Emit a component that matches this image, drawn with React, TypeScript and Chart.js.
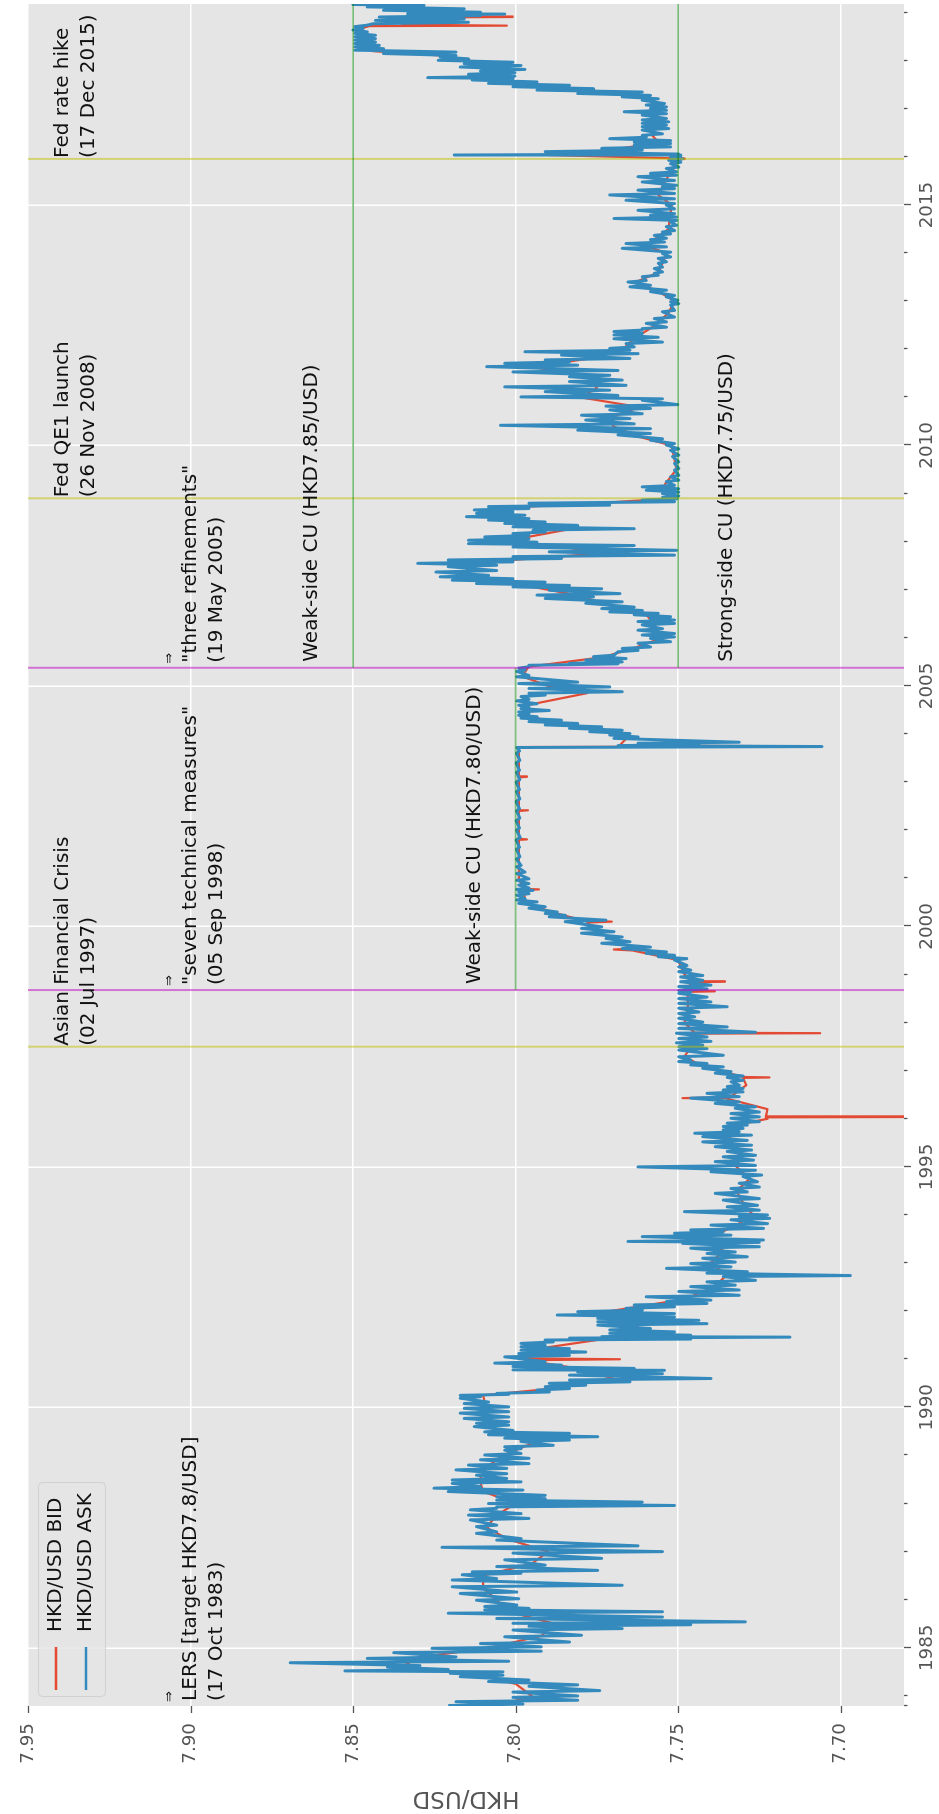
import React, { useEffect, useRef } from 'react';
import { Chart, registerables } from 'chart.js';

Chart.register(...registerables);

const FONT = '"DejaVu Sans", sans-serif';

const X_MIN = 1983.79;
const X_MAX = 2019.18;
const Y_MIN = 7.6805;
const Y_MAX = 7.95;

const YEAR_TICKS = [1983.79, 1984, 1985, 1986, 1987, 1988, 1989, 1990, 1991, 1992, 1993, 1994, 1995,
  1996, 1997, 1998, 1999, 2000, 2001, 2002, 2003, 2004, 2005, 2006, 2007, 2008, 2009, 2010, 2011,
  2012, 2013, 2014, 2015, 2016, 2017, 2018, 2019];
const RATE_TICKS = [7.70, 7.75, 7.80, 7.85, 7.90, 7.95];

const SERIES_LABELS = ['HKD/USD BID', 'HKD/USD ASK'];

const ASK_1983_1992: [number, number][] = [
  [1983.80, 7.8207], [1983.83, 7.7977], [1983.88, 7.8183], [1983.91, 7.7809], [1983.97, 7.8008], [1984.00, 7.7809],
  [1984.08, 7.8008], [1984.11, 7.7741], [1984.20, 7.7959], [1984.23, 7.7809], [1984.30, 7.8083], [1984.33, 7.7959],
  [1984.40, 7.8170], [1984.43, 7.8039], [1984.47, 7.8201], [1984.50, 7.8039], [1984.52, 7.8525], [1984.55, 7.8207],
  [1984.60, 7.8394], [1984.63, 7.8294], [1984.69, 7.8693], [1984.72, 7.8021], [1984.78, 7.8456], [1984.81, 7.8183],
  [1984.90, 7.8375], [1984.93, 7.7921], [1984.99, 7.8257], [1985.02, 7.7921], [1985.09, 7.8108], [1985.12, 7.7834],
  [1985.23, 7.8033], [1985.26, 7.7797], [1985.37, 7.8008], [1985.40, 7.7672], [1985.45, 7.7959], [1985.48, 7.7461],
  [1985.51, 7.8008], [1985.54, 7.7293], [1985.61, 7.8058], [1985.64, 7.7548], [1985.72, 7.8207], [1985.75, 7.7548],
  [1985.79, 7.8095], [1985.82, 7.7959], [1985.86, 7.8095], [1985.89, 7.7996], [1985.99, 7.8120], [1986.02, 7.7990],
  [1986.13, 7.8170], [1986.16, 7.7996], [1986.27, 7.8195], [1986.30, 7.7672], [1986.41, 7.8195], [1986.44, 7.8058],
  [1986.52, 7.8164], [1986.55, 7.7983], [1986.58, 7.8133], [1986.61, 7.7747], [1986.69, 7.8058], [1986.72, 7.7909],
  [1986.83, 7.8033], [1986.86, 7.7735], [1986.97, 7.8008], [1987.00, 7.7548], [1987.09, 7.8226], [1987.12, 7.7623],
  [1987.24, 7.8058], [1987.27, 7.7983], [1987.38, 7.8120], [1987.41, 7.8058], [1987.52, 7.8120], [1987.55, 7.8058],
  [1987.66, 7.8139], [1987.69, 7.7959], [1987.76, 7.8145], [1987.79, 7.7983], [1987.87, 7.8139], [1987.90, 7.8058],
  [1987.93, 7.8058], [1987.96, 7.7511], [1988.00, 7.8083], [1988.03, 7.7610], [1988.07, 7.8058], [1988.10, 7.7909],
  [1988.14, 7.8058], [1988.17, 7.7909], [1988.25, 7.8207], [1988.28, 7.7977], [1988.32, 7.8251], [1988.35, 7.8108],
  [1988.42, 7.8195], [1988.45, 7.7983], [1988.49, 7.8195], [1988.52, 7.8027], [1988.59, 7.8120], [1988.62, 7.8027],
  [1988.70, 7.8183], [1988.73, 7.8027], [1988.80, 7.8145], [1988.83, 7.7959], [1988.91, 7.8108], [1988.94, 7.7959],
  [1989.01, 7.8095], [1989.04, 7.7983], [1989.11, 7.8033], [1989.14, 7.7983], [1989.18, 7.8033], [1989.21, 7.7884],
  [1989.29, 7.7983], [1989.32, 7.7834], [1989.36, 7.8033], [1989.39, 7.7747], [1989.43, 7.8083], [1989.46, 7.7834],
  [1989.49, 7.8095], [1989.52, 7.8008], [1989.60, 7.8127], [1989.63, 7.8021], [1989.67, 7.8120], [1989.70, 7.8021],
  [1989.77, 7.8158], [1989.80, 7.8021], [1989.88, 7.8170], [1989.91, 7.8021], [1989.98, 7.8158], [1990.01, 7.8021],
  [1990.08, 7.8158], [1990.11, 7.8083], [1990.19, 7.8170], [1990.22, 7.8108], [1990.25, 7.8170], [1990.27, 7.8021],
  [1990.29, 7.8058], [1990.32, 7.7896], [1990.36, 7.7934], [1990.39, 7.7834], [1990.43, 7.7909], [1990.46, 7.7784],
  [1990.50, 7.7896], [1990.53, 7.7648], [1990.57, 7.7834], [1990.60, 7.7399], [1990.67, 7.7834], [1990.70, 7.7548],
  [1990.74, 7.7809], [1990.77, 7.7542], [1990.78, 7.8008], [1990.81, 7.7635], [1990.85, 7.8008], [1990.88, 7.7859],
  [1990.92, 7.8064], [1990.95, 7.7909], [1991.05, 7.8033], [1991.08, 7.7834], [1991.12, 7.7990], [1991.15, 7.7784],
  [1991.19, 7.7983], [1991.22, 7.7834], [1991.26, 7.7983], [1991.29, 7.7909], [1991.33, 7.7983], [1991.36, 7.7884],
  [1991.40, 7.7909], [1991.42, 7.7461], [1991.44, 7.7834], [1991.46, 7.7156], [1991.47, 7.7735], [1991.50, 7.7461],
  [1991.54, 7.7710], [1991.57, 7.7511], [1991.61, 7.7710], [1991.64, 7.7585], [1991.71, 7.7747], [1991.74, 7.7411],
  [1991.78, 7.7747], [1991.81, 7.7436], [1991.85, 7.7747], [1991.88, 7.7511], [1991.92, 7.7872], [1991.95, 7.7511],
  [1991.99, 7.7809], [1992.02, 7.7610], [1992.06, 7.7660], [1992.09, 7.7511], [1992.13, 7.7635], [1992.16, 7.7411],
  [1992.20, 7.7536], [1992.23, 7.7399], [1992.30, 7.7598], [1992.33, 7.7312], [1992.41, 7.7498], [1992.44, 7.7312],
];

const ASK_1992_2001: [number, number][] = [
  [1992.51, 7.7461], [1992.54, 7.7324], [1992.61, 7.7411], [1992.64, 7.7262], [1992.72, 7.7361], [1992.74, 7.6970],
  [1992.79, 7.7411], [1992.82, 7.7287], [1992.89, 7.7536], [1992.92, 7.7337], [1992.99, 7.7461], [1993.02, 7.7324],
  [1993.10, 7.7424], [1993.13, 7.7287], [1993.20, 7.7411], [1993.23, 7.7324], [1993.31, 7.7461], [1993.34, 7.7250],
  [1993.41, 7.7486], [1993.43, 7.7250], [1993.45, 7.7654], [1993.48, 7.7237], [1993.55, 7.7610], [1993.58, 7.7337],
  [1993.62, 7.7511], [1993.65, 7.7361], [1993.69, 7.7461], [1993.72, 7.7237], [1993.79, 7.7399], [1993.82, 7.7225],
  [1993.90, 7.7337], [1993.93, 7.7218], [1993.97, 7.7312], [1994.00, 7.7225], [1994.07, 7.7480], [1994.10, 7.7250],
  [1994.17, 7.7349], [1994.20, 7.7256], [1994.31, 7.7361], [1994.34, 7.7250], [1994.45, 7.7386], [1994.48, 7.7287],
  [1994.55, 7.7337], [1994.58, 7.7250], [1994.66, 7.7312], [1994.69, 7.7256], [1994.80, 7.7300], [1994.83, 7.7243],
  [1994.90, 7.7399], [1994.93, 7.7262], [1995.00, 7.7623], [1995.03, 7.7262], [1995.11, 7.7386], [1995.14, 7.7268],
  [1995.21, 7.7361], [1995.24, 7.7262], [1995.32, 7.7349], [1995.35, 7.7274], [1995.42, 7.7386], [1995.45, 7.7274],
  [1995.52, 7.7424], [1995.55, 7.7287], [1995.63, 7.7424], [1995.66, 7.7274], [1995.70, 7.7449], [1995.73, 7.7312],
  [1995.77, 7.7361], [1995.80, 7.7300], [1995.84, 7.7361], [1995.87, 7.7287], [1995.91, 7.7349], [1995.94, 7.7250],
  [1996.01, 7.7337], [1996.04, 7.7250], [1996.11, 7.7337], [1996.14, 7.7250], [1996.22, 7.7324], [1996.25, 7.7262],
  [1996.32, 7.7386], [1996.35, 7.7312], [1996.43, 7.7461], [1996.46, 7.7312], [1996.53, 7.7411], [1996.56, 7.7300],
  [1996.60, 7.7361], [1996.63, 7.7300], [1996.67, 7.7349], [1996.70, 7.7312], [1996.77, 7.7337], [1996.80, 7.7300],
  [1996.86, 7.7349], [1996.89, 7.7300], [1996.95, 7.7386], [1996.98, 7.7337], [1997.05, 7.7424], [1997.08, 7.7361],
  [1997.12, 7.7461], [1997.15, 7.7411], [1997.19, 7.7498], [1997.22, 7.7461], [1997.29, 7.7498], [1997.32, 7.7361],
  [1997.43, 7.7498], [1997.46, 7.7411], [1997.50, 7.7498], [1997.53, 7.7424], [1997.58, 7.7505], [1997.61, 7.7399],
  [1997.67, 7.7498], [1997.70, 7.7411], [1997.78, 7.7505], [1997.80, 7.7262], [1997.88, 7.7498], [1997.91, 7.7349],
  [1997.98, 7.7498], [1998.01, 7.7424], [1998.09, 7.7498], [1998.12, 7.7449], [1998.19, 7.7498], [1998.22, 7.7436],
  [1998.30, 7.7498], [1998.33, 7.7349], [1998.40, 7.7498], [1998.43, 7.7399], [1998.50, 7.7498], [1998.53, 7.7411],
  [1998.61, 7.7498], [1998.64, 7.7461], [1998.67, 7.7498], [1998.70, 7.7411], [1998.75, 7.7498], [1998.78, 7.7399],
  [1998.85, 7.7492], [1998.88, 7.7424], [1998.95, 7.7492], [1998.98, 7.7424], [1999.06, 7.7498], [1999.09, 7.7461],
  [1999.16, 7.7498], [1999.19, 7.7473], [1999.30, 7.7511], [1999.33, 7.7473], [1999.37, 7.7561], [1999.40, 7.7511],
  [1999.44, 7.7598], [1999.47, 7.7536], [1999.54, 7.7672], [1999.57, 7.7585], [1999.65, 7.7735], [1999.68, 7.7648],
  [1999.75, 7.7722], [1999.78, 7.7672], [1999.86, 7.7797], [1999.89, 7.7697], [1999.96, 7.7797], [1999.99, 7.7735],
  [2000.10, 7.7847], [2000.13, 7.7722], [2000.20, 7.7896], [2000.23, 7.7847], [2000.27, 7.7909], [2000.30, 7.7872],
  [2000.38, 7.7959], [2000.41, 7.7909], [2000.48, 7.7990], [2000.51, 7.7934], [2000.55, 7.7996], [2000.58, 7.7971],
  [2000.65, 7.7996], [2000.68, 7.7959], [2000.72, 7.7990], [2000.75, 7.7946], [2000.77, 7.7996], [2000.80, 7.7959],
  [2000.86, 7.7990], [2000.89, 7.7959], [2000.96, 7.7996], [2000.99, 7.7959], [2001.10, 7.7996], [2001.13, 7.7971],
  [2001.24, 7.7996], [2001.27, 7.7983],
];

const ASK_2001_2010: [number, number][] = [
  [2001.40, 7.7997], [2001.45, 7.7987], [2001.60, 7.7997], [2001.65, 7.7988], [2001.80, 7.7998], [2001.85, 7.7986],
  [2002.00, 7.7997], [2002.05, 7.7988], [2002.20, 7.7998], [2002.25, 7.7987], [2002.40, 7.7997], [2002.45, 7.7988],
  [2002.60, 7.7998], [2002.65, 7.7987], [2002.80, 7.7997], [2002.85, 7.7988], [2003.00, 7.7998], [2003.05, 7.7987],
  [2003.20, 7.7997], [2003.25, 7.7988], [2003.40, 7.7998], [2003.45, 7.7987], [2003.60, 7.7997], [2003.65, 7.7988],
  [2003.72, 7.7996], [2003.74, 7.7057], [2003.76, 7.7685], [2003.78, 7.7436], [2003.81, 7.7623], [2003.83, 7.7312],
  [2003.91, 7.7697], [2003.94, 7.7623], [2003.98, 7.7710], [2004.01, 7.7648], [2004.05, 7.7772], [2004.08, 7.7672],
  [2004.12, 7.7834], [2004.15, 7.7735], [2004.19, 7.7909], [2004.22, 7.7809], [2004.26, 7.7959], [2004.29, 7.7859],
  [2004.33, 7.7983], [2004.36, 7.7934], [2004.39, 7.7990], [2004.42, 7.7959], [2004.46, 7.7990], [2004.49, 7.7896],
  [2004.53, 7.7983], [2004.56, 7.7959], [2004.60, 7.7990], [2004.63, 7.7934], [2004.69, 7.7996], [2004.72, 7.7959],
  [2004.78, 7.7983], [2004.81, 7.7909], [2004.85, 7.7959], [2004.88, 7.7672], [2004.95, 7.7959], [2004.98, 7.7710],
  [2005.05, 7.7990], [2005.08, 7.7809], [2005.19, 7.7996], [2005.22, 7.7959], [2005.30, 7.7996], [2005.33, 7.7971],
  [2005.37, 7.7990], [2005.40, 7.7959], [2005.43, 7.7959], [2005.46, 7.7685], [2005.47, 7.7834], [2005.50, 7.7672],
  [2005.54, 7.7784], [2005.57, 7.7660], [2005.61, 7.7760], [2005.64, 7.7697], [2005.71, 7.7685], [2005.74, 7.7623],
  [2005.78, 7.7672], [2005.81, 7.7585], [2005.89, 7.7623], [2005.92, 7.7523], [2005.99, 7.7585], [2006.02, 7.7511],
  [2006.06, 7.7610], [2006.09, 7.7511], [2006.16, 7.7623], [2006.19, 7.7548], [2006.27, 7.7610], [2006.30, 7.7511],
  [2006.34, 7.7623], [2006.37, 7.7511], [2006.41, 7.7585], [2006.44, 7.7523], [2006.48, 7.7635], [2006.51, 7.7561],
  [2006.54, 7.7710], [2006.57, 7.7610], [2006.61, 7.7735], [2006.64, 7.7635], [2006.72, 7.7784], [2006.75, 7.7672],
  [2006.82, 7.7909], [2006.85, 7.7760], [2006.89, 7.7934], [2006.92, 7.7679], [2006.99, 7.7896], [2007.02, 7.7735],
  [2007.06, 7.8008], [2007.09, 7.7834], [2007.13, 7.8120], [2007.16, 7.7909], [2007.20, 7.8195], [2007.23, 7.8008],
  [2007.27, 7.8232], [2007.30, 7.8083], [2007.37, 7.8245], [2007.40, 7.8058], [2007.48, 7.8207], [2007.51, 7.8058],
  [2007.55, 7.8301], [2007.58, 7.8008], [2007.62, 7.8207], [2007.65, 7.7859], [2007.69, 7.8008], [2007.72, 7.7511],
  [2007.79, 7.7896], [2007.82, 7.7505], [2007.89, 7.8008], [2007.92, 7.7635], [2007.96, 7.8145], [2007.99, 7.7934],
  [2008.03, 7.8145], [2008.06, 7.7959], [2008.10, 7.8095], [2008.13, 7.7959], [2008.17, 7.8008], [2008.20, 7.7909],
  [2008.24, 7.7946], [2008.27, 7.7635], [2008.31, 7.8008], [2008.34, 7.7809], [2008.38, 7.8033], [2008.41, 7.7909],
  [2008.45, 7.8083], [2008.48, 7.7959], [2008.52, 7.8151], [2008.55, 7.7971], [2008.59, 7.8120], [2008.62, 7.8008],
  [2008.66, 7.8127], [2008.69, 7.7959], [2008.73, 7.8083], [2008.76, 7.7710], [2008.80, 7.7959], [2008.83, 7.7511],
  [2008.87, 7.7610], [2008.89, 7.7505], [2008.92, 7.7548], [2008.95, 7.7498], [2009.00, 7.7548], [2009.03, 7.7498],
  [2009.07, 7.7598], [2009.10, 7.7498], [2009.14, 7.7610], [2009.17, 7.7511], [2009.25, 7.7536], [2009.28, 7.7498],
  [2009.35, 7.7523], [2009.38, 7.7498], [2009.49, 7.7511], [2009.52, 7.7498], [2009.63, 7.7511], [2009.66, 7.7498],
  [2009.77, 7.7517], [2009.80, 7.7498], [2009.90, 7.7523], [2009.93, 7.7498], [2010.01, 7.7536], [2010.04, 7.7511],
  [2010.11, 7.7585], [2010.14, 7.7548], [2010.22, 7.7685], [2010.25, 7.7585],
];

const ASK_2010_2019: [number, number][] = [
  [2010.32, 7.7809], [2010.35, 7.7585], [2010.42, 7.8046], [2010.45, 7.7635], [2010.53, 7.7784], [2010.56, 7.7648],
  [2010.63, 7.7797], [2010.66, 7.7610], [2010.74, 7.7710], [2010.77, 7.7585], [2010.82, 7.7722], [2010.85, 7.7501],
  [2010.94, 7.7610], [2010.97, 7.7548], [2011.01, 7.7983], [2011.04, 7.7685], [2011.12, 7.7909], [2011.15, 7.7710],
  [2011.22, 7.8033], [2011.25, 7.7660], [2011.33, 7.7834], [2011.36, 7.7672], [2011.43, 7.7834], [2011.46, 7.7710],
  [2011.53, 7.8008], [2011.56, 7.7685], [2011.64, 7.8089], [2011.67, 7.7809], [2011.71, 7.8033], [2011.74, 7.7834],
  [2011.78, 7.7909], [2011.81, 7.7648], [2011.88, 7.7859], [2011.91, 7.7623], [2011.95, 7.7971], [2011.98, 7.7648],
  [2012.02, 7.7710], [2012.05, 7.7635], [2012.12, 7.7660], [2012.15, 7.7548], [2012.22, 7.7697], [2012.25, 7.7561],
  [2012.30, 7.7697], [2012.33, 7.7610], [2012.37, 7.7697], [2012.40, 7.7610], [2012.43, 7.7610], [2012.46, 7.7536],
  [2012.54, 7.7598], [2012.57, 7.7536], [2012.64, 7.7573], [2012.67, 7.7511], [2012.78, 7.7548], [2012.81, 7.7511],
  [2012.92, 7.7523], [2012.95, 7.7498], [2012.99, 7.7523], [2013.02, 7.7501], [2013.09, 7.7536], [2013.12, 7.7511],
  [2013.20, 7.7585], [2013.23, 7.7536], [2013.30, 7.7648], [2013.33, 7.7585], [2013.40, 7.7654], [2013.43, 7.7598],
  [2013.51, 7.7610], [2013.54, 7.7561], [2013.58, 7.7573], [2013.61, 7.7548], [2013.68, 7.7573], [2013.71, 7.7548],
  [2013.79, 7.7561], [2013.82, 7.7536], [2013.89, 7.7561], [2013.92, 7.7523], [2013.99, 7.7548], [2014.02, 7.7523],
  [2014.10, 7.7672], [2014.13, 7.7536], [2014.20, 7.7660], [2014.23, 7.7542], [2014.28, 7.7585], [2014.31, 7.7536],
  [2014.37, 7.7573], [2014.40, 7.7523], [2014.44, 7.7548], [2014.47, 7.7511], [2014.55, 7.7536], [2014.58, 7.7505],
  [2014.65, 7.7523], [2014.68, 7.7505], [2014.72, 7.7697], [2014.75, 7.7505], [2014.79, 7.7585], [2014.82, 7.7511],
  [2014.89, 7.7623], [2014.92, 7.7511], [2015.00, 7.7536], [2015.03, 7.7511], [2015.10, 7.7660], [2015.13, 7.7511],
  [2015.21, 7.7710], [2015.24, 7.7511], [2015.31, 7.7623], [2015.34, 7.7511], [2015.38, 7.7548], [2015.41, 7.7505],
  [2015.48, 7.7610], [2015.51, 7.7511], [2015.59, 7.7623], [2015.62, 7.7505], [2015.66, 7.7585], [2015.69, 7.7505],
  [2015.76, 7.7536], [2015.79, 7.7498], [2015.86, 7.7523], [2015.89, 7.7492], [2015.93, 7.7529], [2015.96, 7.7486],
  [2016.00, 7.7523], [2016.02, 7.7492], [2016.04, 7.8189], [2016.06, 7.7498], [2016.11, 7.7909], [2016.14, 7.7610],
  [2016.18, 7.7735], [2016.21, 7.7523], [2016.25, 7.7635], [2016.28, 7.7523], [2016.31, 7.7635], [2016.34, 7.7523],
  [2016.38, 7.7710], [2016.41, 7.7598], [2016.45, 7.7610], [2016.48, 7.7548], [2016.56, 7.7610], [2016.59, 7.7529],
  [2016.63, 7.7610], [2016.66, 7.7536], [2016.70, 7.7610], [2016.73, 7.7529], [2016.77, 7.7610], [2016.80, 7.7536],
  [2016.87, 7.7610], [2016.90, 7.7536], [2016.94, 7.7666], [2016.97, 7.7536], [2017.01, 7.7585], [2017.04, 7.7536],
  [2017.08, 7.7598], [2017.11, 7.7542], [2017.18, 7.7610], [2017.21, 7.7561], [2017.25, 7.7672], [2017.28, 7.7585],
  [2017.32, 7.7809], [2017.35, 7.7610], [2017.39, 7.7934], [2017.42, 7.7760], [2017.46, 7.8008], [2017.49, 7.7834],
  [2017.53, 7.8083], [2017.56, 7.7934], [2017.60, 7.8133], [2017.63, 7.8008], [2017.65, 7.8270], [2017.68, 7.8002],
  [2017.72, 7.8145], [2017.75, 7.8002], [2017.79, 7.8108], [2017.82, 7.7971], [2017.87, 7.8170], [2017.90, 7.7983],
  [2017.94, 7.8158], [2017.97, 7.8008], [2018.01, 7.8238], [2018.04, 7.8145], [2018.08, 7.8232], [2018.11, 7.8183],
  [2018.15, 7.8406], [2018.18, 7.8183], [2018.22, 7.8494], [2018.25, 7.8406], [2018.29, 7.8494], [2018.32, 7.8419],
  [2018.36, 7.8494], [2018.39, 7.8431], [2018.43, 7.8494], [2018.46, 7.8431], [2018.50, 7.8494], [2018.53, 7.8431],
  [2018.57, 7.8494], [2018.60, 7.8456], [2018.64, 7.8500], [2018.67, 7.8469], [2018.71, 7.8494], [2018.74, 7.8456],
  [2018.77, 7.8438], [2018.80, 7.8145], [2018.84, 7.8431], [2018.87, 7.8158], [2018.91, 7.8419], [2018.94, 7.8108],
  [2018.95, 7.8332], [2018.97, 7.8033], [2018.98, 7.8332], [2019.01, 7.8108], [2019.05, 7.8406], [2019.08, 7.8158],
  [2019.12, 7.8456], [2019.15, 7.8282], [2019.17, 7.8500], [2019.18, 7.8394],
];

const BID_1983_2001: [number, number][] = [
  [1983.80, 7.8050], [1984.00, 7.7950], [1984.25, 7.8000], [1984.45, 7.8120], [1984.60, 7.8350], [1984.80, 7.8300],
  [1985.00, 7.8080], [1985.25, 7.7920], [1985.50, 7.7880], [1985.75, 7.8020], [1986.00, 7.8060], [1986.25, 7.8100],
  [1986.50, 7.8100], [1986.75, 7.7950], [1987.00, 7.7900], [1987.25, 7.8020], [1987.50, 7.8090], [1987.75, 7.8060],
  [1988.00, 7.8000], [1988.25, 7.8100], [1988.50, 7.8110], [1988.75, 7.8090], [1989.00, 7.8040], [1989.25, 7.7950],
  [1989.50, 7.8060], [1989.75, 7.8090], [1990.00, 7.8090], [1990.25, 7.8100], [1990.40, 7.7870], [1990.60, 7.7700],
  [1990.80, 7.7800], [1990.98, 7.7970], [1991.00, 7.7679], [1991.02, 7.7970], [1991.25, 7.7900], [1991.45, 7.7700],
  [1991.60, 7.7650], [1991.80, 7.7600], [1992.00, 7.7710], [1992.25, 7.7480], [1992.50, 7.7390], [1992.75, 7.7350],
  [1993.00, 7.7400], [1993.25, 7.7360], [1993.50, 7.7420], [1993.75, 7.7330], [1994.00, 7.7270], [1994.25, 7.7300],
  [1994.50, 7.7320], [1994.75, 7.7280], [1995.00, 7.7320], [1995.25, 7.7310], [1995.50, 7.7350], [1995.75, 7.7330],
  [1995.90, 7.7300], [1996.00, 7.7225], [1996.03, 7.7230], [1996.04, 7.6600], [1996.05, 7.7230], [1996.20, 7.7225],
  [1996.42, 7.7350], [1996.43, 7.7486], [1996.45, 7.7340], [1996.70, 7.7290], [1996.85, 7.7300], [1996.86, 7.7219],
  [1996.87, 7.7300], [1997.10, 7.7430], [1997.30, 7.7480], [1997.50, 7.7460], [1997.77, 7.7460], [1997.78, 7.7063],
  [1997.79, 7.7450], [1998.00, 7.7480], [1998.30, 7.7470], [1998.64, 7.7470], [1998.65, 7.7387], [1998.66, 7.7470],
  [1998.84, 7.7460], [1998.85, 7.7356], [1998.86, 7.7460], [1999.00, 7.7480], [1999.30, 7.7500], [1999.50, 7.7640],
  [1999.52, 7.7698], [1999.54, 7.7640], [1999.70, 7.7690], [1999.90, 7.7750], [2000.08, 7.7780], [2000.10, 7.7704],
  [2000.12, 7.7790], [2000.30, 7.7890], [2000.50, 7.7970], [2000.76, 7.7975], [2000.77, 7.7928], [2000.78, 7.7975],
  [2001.00, 7.7990],
];

const BID_2001_2019: [number, number][] = [
  [2001.50, 7.7990], [2001.80, 7.7990], [2001.81, 7.7965], [2001.82, 7.7990], [2002.40, 7.7990], [2002.41, 7.7962],
  [2002.42, 7.7990], [2003.10, 7.7990], [2003.11, 7.7965], [2003.12, 7.7990], [2003.73, 7.7990], [2003.745, 7.7060],
  [2003.76, 7.7680], [2003.90, 7.7660], [2004.00, 7.7680], [2004.20, 7.7860], [2004.40, 7.7975], [2004.60, 7.7965],
  [2004.85, 7.7780], [2005.00, 7.7900], [2005.20, 7.7980], [2005.40, 7.7960], [2005.60, 7.7730], [2005.80, 7.7630],
  [2006.00, 7.7550], [2006.25, 7.7570], [2006.50, 7.7600], [2006.70, 7.7720], [2006.90, 7.7820], [2007.10, 7.7980],
  [2007.30, 7.8150], [2007.55, 7.8150], [2007.75, 7.7750], [2007.90, 7.7850], [2008.00, 7.8040], [2008.24, 7.7850],
  [2008.50, 7.8060], [2008.70, 7.8050], [2008.80, 7.7750], [2008.90, 7.7520], [2009.20, 7.7540], [2009.50, 7.7505],
  [2010.00, 7.7520], [2010.20, 7.7630], [2010.40, 7.7700], [2010.60, 7.7700], [2010.80, 7.7620], [2011.00, 7.7800],
  [2011.20, 7.7750], [2011.40, 7.7760], [2011.64, 7.7950], [2011.80, 7.7780], [2012.00, 7.7670], [2012.25, 7.7630],
  [2012.50, 7.7570], [2012.75, 7.7530], [2013.00, 7.7510], [2013.20, 7.7560], [2013.40, 7.7630], [2013.60, 7.7560],
  [2014.00, 7.7535], [2014.15, 7.7600], [2014.50, 7.7530], [2015.00, 7.7520], [2015.20, 7.7560], [2015.50, 7.7540],
  [2015.80, 7.7510], [2015.95, 7.7500], [2015.96, 7.7480], [2015.97, 7.7500], [2016.04, 7.7900], [2016.10, 7.7750],
  [2016.30, 7.7560], [2016.45, 7.7580], [2016.70, 7.7570], [2017.00, 7.7560], [2017.20, 7.7580], [2017.35, 7.7720],
  [2017.50, 7.7950], [2017.60, 7.8070], [2017.90, 7.8070], [2018.10, 7.8210], [2018.20, 7.8440], [2018.30, 7.8460],
  [2018.65, 7.8485], [2018.72, 7.8450], [2018.73, 7.8027], [2018.75, 7.8350], [2018.80, 7.8300], [2018.90, 7.8300],
  [2018.91, 7.8009], [2018.92, 7.8250], [2018.98, 7.8200], [2019.10, 7.8350], [2019.18, 7.8450],
];

// Events: market shocks (yellow lines) and HKMA policy changes (magenta lines)
const MARKET_EVENT_DATES = [1997.499, 2008.902, 2015.959];
const MARKET_EVENT_TEXT = [
  ['Asian Financial Crisis', '(02 Jul 1997)'],
  ['Fed QE1 launch', '(26 Nov 2008)'],
  ['Fed rate hike', '(17 Dec 2015)'],
];
const POLICY_EVENT_DATES = [1983.792, 1998.677, 2005.378];
const POLICY_EVENT_LINE = [false, true, true];
const POLICY_EVENT_TEXT = [
  ['LERS [target HKD7.8/USD]', '(17 Oct 1983)'],
  ['"seven technical measures"', '(05 Sep 1998)'],
  ['"three refinements"', '(19 May 2005)'],
];
// Convertibility undertakings (green lines)
const CU_LEVELS = [7.80, 7.85, 7.75];
const CU_FROM = [1998.677, 2005.378, 2005.378];
const CU_TO = [2005.378, X_MAX, X_MAX];
const CU_TEXT = ['Weak-side CU (HKD7.80/USD)', 'Weak-side CU (HKD7.85/USD)', 'Strong-side CU (HKD7.75/USD)'];
const CU_BELOW = [false, false, true];

const toPoints = (arr: [number, number][]) => arr.map(([x, y]) => ({ x, y }));

const decorPlugin = {
  id: 'decor',
  beforeDraw(chart: any) {
    const { ctx, chartArea: a, width, height } = chart;
    ctx.save();
    ctx.fillStyle = '#ffffff';
    ctx.fillRect(0, 0, width, height);
    ctx.fillStyle = '#E5E5E5';
    ctx.fillRect(a.left, a.top, a.right - a.left, a.bottom - a.top);
    ctx.restore();
  },
  afterDatasetsDraw(chart: any) {
    const { ctx, chartArea: a } = chart;
    const xs = chart.scales.x;
    const ys = chart.scales.y;
    const seg = (x0: number, y0: number, x1: number, y1: number) => {
      ctx.beginPath();
      ctx.moveTo(x0, y0);
      ctx.lineTo(x1, y1);
      ctx.stroke();
    };
    ctx.save();
    ctx.beginPath();
    ctx.rect(a.left, a.top, a.right - a.left, a.bottom - a.top);
    ctx.clip();
    ctx.lineWidth = 2;
    ctx.strokeStyle = 'rgba(191,191,0,0.5)';
    MARKET_EVENT_DATES.forEach((d) => {
      const x = xs.getPixelForValue(d);
      seg(x, a.top, x, a.bottom);
    });
    ctx.strokeStyle = 'rgba(191,0,191,0.5)';
    POLICY_EVENT_DATES.forEach((d, i) => {
      if (!POLICY_EVENT_LINE[i]) return;
      const x = xs.getPixelForValue(d);
      seg(x, a.top, x, a.bottom);
    });
    ctx.lineWidth = 1.8;
    ctx.strokeStyle = 'rgba(0,128,0,0.5)';
    CU_LEVELS.forEach((lvl, i) => {
      const y = ys.getPixelForValue(lvl);
      seg(xs.getPixelForValue(CU_FROM[i]), y, xs.getPixelForValue(CU_TO[i]), y);
    });
    ctx.restore();

    ctx.save();
    ctx.fillStyle = '#111111';
    ctx.textAlign = 'left';
    ctx.textBaseline = 'alphabetic';
    ctx.font = `20px ${FONT}`;
    const lineGap = 26;
    MARKET_EVENT_DATES.forEach((d, i) => {
      const x = xs.getPixelForValue(d) + 1;
      const y = ys.getPixelForValue(7.9378);
      MARKET_EVENT_TEXT[i].forEach((t, k) => ctx.fillText(t, x, y + k * lineGap));
    });
    POLICY_EVENT_DATES.forEach((d, i) => {
      const x = xs.getPixelForValue(d);
      const y = ys.getPixelForValue(7.8982);
      POLICY_EVENT_TEXT[i].forEach((t, k) => ctx.fillText(t, x + 5, y + k * lineGap));
    });
    CU_LEVELS.forEach((lvl, i) => {
      const x = xs.getPixelForValue(CU_FROM[i]) + 6;
      const y = ys.getPixelForValue(CU_BELOW[i] ? lvl - 0.0165 : lvl + 0.011);
      ctx.fillText(CU_TEXT[i], x, y);
    });
    // small arrows next to policy notes
    ctx.font = `13px ${FONT}`;
    ctx.textBaseline = 'middle';
    POLICY_EVENT_DATES.forEach((d) => {
      const x = xs.getPixelForValue(d) + 4;
      const y = ys.getPixelForValue(7.9064);
      ctx.fillText('\u21D2', x, y);
    });
    ctx.restore();
  },
  afterDraw(chart: any) {
    const { ctx, chartArea: a } = chart;
    const xs = chart.scales.x;
    const ys = chart.scales.y;
    ctx.save();
    ctx.strokeStyle = '#555555';
    ctx.lineWidth = 1.3;
    xs.ticks.forEach((t: any) => {
      const x = Math.round(xs.getPixelForValue(t.value)) + 0.5;
      const len = t.value % 5 === 0 ? 7 : 3.5;
      ctx.beginPath();
      ctx.moveTo(x, a.bottom);
      ctx.lineTo(x, a.bottom + len);
      ctx.stroke();
    });
    ys.ticks.forEach((t: any) => {
      const y = Math.round(ys.getPixelForValue(t.value)) + 0.5;
      ctx.beginPath();
      ctx.moveTo(a.left - 7, y);
      ctx.lineTo(a.left, y);
      ctx.stroke();
    });
    // legend (upper left)
    const lx = a.left + 9;
    const ly = a.top + 10;
    const lw = 214;
    const lh = 67;
    ctx.beginPath();
    (ctx as any).roundRect(lx + 0.5, ly + 0.5, lw, lh, 4);
    ctx.fillStyle = 'rgba(229,229,229,0.8)';
    ctx.fill();
    ctx.strokeStyle = 'rgba(204,204,204,0.8)';
    ctx.lineWidth = 1;
    ctx.stroke();
    const colors = chart.data.datasets.map((ds: any) => ds.borderColor);
    ctx.font = `20px ${FONT}`;
    ctx.textBaseline = 'alphabetic';
    ctx.textAlign = 'left';
    SERIES_LABELS.forEach((label, i) => {
      const rowY = ly + 18 + i * 30;
      ctx.strokeStyle = colors[i];
      ctx.lineWidth = 2.6;
      ctx.beginPath();
      ctx.moveTo(lx + 7, rowY);
      ctx.lineTo(lx + 50, rowY);
      ctx.stroke();
      ctx.fillStyle = '#111111';
      ctx.fillText(label, lx + 65, rowY + 5.3);
    });
    ctx.restore();
  },
};

export default function App() {
  const ref = useRef<HTMLCanvasElement>(null);
  useEffect(() => {
    const canvas = ref.current;
    if (!canvas) return;
    Chart.defaults.font.family = FONT;
    const chart = new Chart(canvas, {
      type: 'line',
      data: {
        datasets: [
          {
            label: SERIES_LABELS[0],
            data: toPoints([...BID_1983_2001, ...BID_2001_2019]),
            borderColor: '#E24A33',
            borderWidth: 2.2,
            pointRadius: 0,
            borderJoinStyle: 'round',
            clip: 0,
            order: 2,
          },
          {
            label: SERIES_LABELS[1],
            data: toPoints([...ASK_1983_1992, ...ASK_1992_2001, ...ASK_2001_2010, ...ASK_2010_2019]),
            borderColor: '#348ABD',
            borderWidth: 3,
            pointRadius: 0,
            borderJoinStyle: 'round',
            clip: 0,
            order: 1,
          },
        ],
      },
      options: {
        responsive: false,
        animation: false,
        devicePixelRatio: 1,
        events: [],
        layout: { padding: { top: 20, right: 4, left: 0, bottom: 0 } },
        plugins: { legend: { display: false }, tooltip: { enabled: false }, title: { display: false } },
        scales: {
          x: {
            type: 'linear',
            min: X_MIN,
            max: X_MAX,
            afterBuildTicks: (s: any) => {
              s.ticks = YEAR_TICKS.map((v) => ({ value: v }));
            },
            afterFit: (s: any) => {
              s.height = 35;
            },
            ticks: {
              autoSkip: false,
              maxRotation: 0,
              minRotation: 0,
              padding: 12,
              color: '#555555',
              font: { family: FONT, size: 18.3 },
              callback: (v: any) => (Number(v) % 5 === 0 ? String(v) : ''),
            },
            grid: {
              drawTicks: false,
              lineWidth: 1.5,
              color: (c: any) => (c.tick && c.tick.value % 5 === 0 ? '#ffffff' : 'rgba(0,0,0,0)'),
            },
            border: { display: false },
          },
          y: {
            type: 'linear',
            min: Y_MIN,
            max: Y_MAX,
            afterBuildTicks: (s: any) => {
              s.ticks = RATE_TICKS.map((v) => ({ value: v }));
            },
            afterFit: (s: any) => {
              s.width = 108;
            },
            ticks: {
              padding: 17,
              color: '#555555',
              font: { family: FONT, size: 18.3 },
              callback: (v: any) => Number(v).toFixed(2),
            },
            grid: { drawTicks: false, lineWidth: 1.5, color: '#ffffff' },
            border: { display: false },
            title: {
              display: true,
              text: 'HKD/USD',
              color: '#555555',
              font: { family: FONT, size: 23 },
              padding: { top: 2, bottom: 0 },
            },
          },
        },
      },
      plugins: [decorPlugin],
    } as any);
    return () => chart.destroy();
  }, []);

  return (
    <div
      style={{
        position: 'fixed',
        left: 0,
        top: 0,
        width: 939,
        height: 1814,
        overflow: 'hidden',
        background: '#ffffff',
      }}
    >
      <canvas
        ref={ref}
        width={1814}
        height={939}
        style={{
          position: 'absolute',
          left: 0,
          top: 0,
          width: 1814,
          height: 939,
          transformOrigin: '0 0',
          transform: 'translate(0px, 1814px) rotate(-90deg)',
        }}
      />
    </div>
  );
}
